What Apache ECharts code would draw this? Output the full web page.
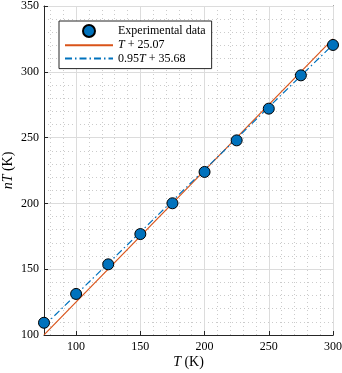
<!DOCTYPE html>
<html>
<head>
<meta charset="utf-8">
<script src="https://cdn.jsdelivr.net/npm/echarts@6/dist/echarts.min.js"></script>
<style>
  html, body { margin: 0; padding: 0; background: #fff; }
  #chart { width: 342px; height: 373px; }
</style>
</head>
<body>
<div id="chart"></div>
<script>
// measured points
const tempK = [75, 100, 125, 150, 175, 200, 225, 250, 275, 300];
const nT = [109.3, 131.2, 153.7, 176.7, 200.1, 223.9, 247.9, 272.0, 297.3, 320.4];

// fit line end points
const fitX = [75, 300];
const fitPlain = [100.07, 325.07];
const fitScaled = [106.93, 320.68];

const legendNames = ['Experimental data', 'T + 25.07', '0.95T + 35.68'];

const FONT = 'Liberation Serif';
const AXIS_COLOR = '#262626';

const chart = echarts.init(document.getElementById('chart'));

const pairs = (xs, ys) => xs.map((x, i) => [x, ys[i]]);

const rich = {
  i: { fontFamily: FONT, fontStyle: 'italic', fontSize: 12, color: '#000' }
};
const nameRich = {
  i: { fontFamily: FONT, fontStyle: 'italic', fontSize: 14, color: '#000' }
};

const boxAxis = {
  min: 75,
  max: 300,
  axisLine: { show: true, onZero: false, lineStyle: { color: AXIS_COLOR, width: 1 } },
  axisTick: { show: true, inside: true, length: 4, lineStyle: { color: AXIS_COLOR } },
  splitLine: { show: false }
};

chart.setOption({
  animation: false,
  grid: { left: 44, right: 9, top: 6, bottom: 38, containLabel: false, outerBoundsMode: 'none' },
  legend: {
    left: 59,
    top: 21,
    orient: 'vertical',
    itemWidth: 48,
    itemHeight: 12,
    itemGap: 1.3,
    padding: [3, 6, 4, 5],
    borderColor: AXIS_COLOR,
    borderWidth: 1,
    borderRadius: 0,
    backgroundColor: '#fff',
    data: [
      { name: legendNames[0] },
      { name: legendNames[1], itemStyle: { opacity: 0 } },
      { name: legendNames[2], itemStyle: { opacity: 0 } }
    ],
    formatter: (name) => {
      if (name === legendNames[1]) return '{i|T} + 25.07';
      if (name === legendNames[2]) return '0.95{i|T} + 35.68';
      return name;
    },
    textStyle: { fontFamily: FONT, fontSize: 12, color: '#000', rich: rich }
  },
  xAxis: [
    {
      type: 'value',
      position: 'bottom',
      min: 75,
      max: 300,
      splitNumber: 5,
      name: '{i|T} (K)',
      nameLocation: 'middle',
      nameGap: 20,
      nameMoveOverlap: false,
      nameTextStyle: { fontFamily: FONT, fontSize: 14, color: '#000', rich: nameRich },
      axisLine: { show: true, onZero: false, lineStyle: { color: AXIS_COLOR, width: 1 } },
      axisTick: { show: true, inside: true, length: 4, lineStyle: { color: AXIS_COLOR } },
      axisLabel: {
        margin: 6,
        fontFamily: FONT, fontSize: 12, color: '#000',
        showMinLabel: false,
        formatter: (v) => (v % 50 === 0 ? String(v) : '')
      },
      splitLine: { show: true, lineStyle: { color: '#dcdcdc', width: 1 } },
      z: 3
    },
    Object.assign({}, boxAxis, {
      type: 'value',
      position: 'top',
      splitNumber: 5,
      axisLabel: { show: false }
    }),
    {
      // minor grid every 10 K
      type: 'value',
      position: 'bottom',
      min: 75,
      max: 300,
      splitNumber: 20,
      axisLine: { show: false },
      axisTick: { show: false },
      axisLabel: { show: false },
      splitLine: { show: true, lineStyle: { color: '#cbcbcb', width: 1, type: [1, 3] } }
    }
  ],
  yAxis: [
    {
      type: 'value',
      position: 'left',
      min: 100,
      max: 350,
      interval: 50,
      name: '{i|nT} (K)',
      nameLocation: 'middle',
      nameGap: 29,
      nameMoveOverlap: false,
      nameTextStyle: { fontFamily: FONT, fontSize: 14, color: '#000', rich: nameRich },
      axisLine: { show: true, onZero: false, lineStyle: { color: AXIS_COLOR, width: 1 } },
      axisTick: { show: true, inside: true, length: 4, lineStyle: { color: AXIS_COLOR } },
      axisLabel: { margin: 5, fontFamily: FONT, fontSize: 12, color: '#000' },
      minorTick: { show: false, splitNumber: 5 },
      splitLine: { show: true, lineStyle: { color: '#dcdcdc', width: 1 } },
      minorSplitLine: { show: true, lineStyle: { color: '#cbcbcb', width: 1, type: [1, 3] } },
      z: 3
    },
    {
      type: 'value',
      position: 'right',
      min: 100,
      max: 350,
      interval: 50,
      axisLine: { show: true, onZero: false, lineStyle: { color: AXIS_COLOR, width: 1 } },
      axisTick: { show: true, inside: true, length: 4, lineStyle: { color: AXIS_COLOR } },
      axisLabel: { show: false },
      splitLine: { show: false }
    }
  ],
  series: [
    {
      name: legendNames[0],
      type: 'scatter',
      data: pairs(tempK, nT),
      symbol: 'circle',
      symbolSize: 11,
      itemStyle: { color: '#0072BD', borderColor: '#000', borderWidth: 1, opacity: 1 },
      z: 5
    },
    {
      name: legendNames[1],
      type: 'line',
      data: pairs(fitX, fitPlain),
      symbol: 'none',
      lineStyle: { color: '#D95319', width: 1.2 },
      itemStyle: { color: '#D95319' },
      z: 3
    },
    {
      name: legendNames[2],
      type: 'line',
      data: pairs(fitX, fitScaled),
      symbol: 'none',
      lineStyle: { color: '#0072BD', width: 1.2, type: [7, 3, 1.5, 3] },
      itemStyle: { color: '#0072BD' },
      z: 4
    }
  ]
});
</script>
</body>
</html>
